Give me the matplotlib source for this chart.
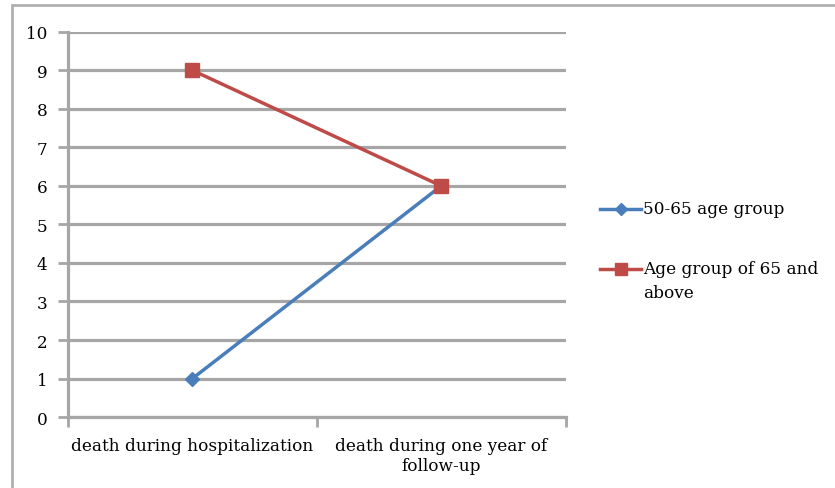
import numpy as np
import matplotlib.pyplot as plt
from matplotlib.patches import Rectangle

categories = ['death during hospitalization', 'death during one year of\nfollow-up']
series_names = ['50-65 age group', 'Age group of 65 and\nabove']
young = [1, 6]
old = [9, 6]
colors = ['#4a7ebb', '#be4b48']
markers = [('D', 7), ('s', 10)]

plt.rcParams['font.family'] = ['DejaVu Serif']
fs = 12.2

fig = plt.figure(figsize=(8.35, 4.89), dpi=100)
ax = fig.add_axes([0.0814, 0.145, 0.596, 0.788])

# outer chart frame
fig.patches.append(Rectangle((12/835, -0.1), 1.0, 1 - 6/489 + 0.1, transform=fig.transFigure,
                             fill=False, edgecolor='#b0b0b0', linewidth=2))

x = np.arange(len(categories)) + 0.5
for vals, c, (m, ms) in zip([young, old], colors, markers):
    ax.plot(x, vals, color=c, linewidth=2.5, marker=m, markersize=ms, zorder=3)

ax.set_xlim(0, 2)
ax.set_ylim(0, 10)
ax.set_yticks(range(0, 11))
ax.yaxis.grid(True, color='#a6a6a6', linewidth=2.3)
ax.set_axisbelow(True)
ax.set_xticks([0, 1, 2])
ax.set_xticklabels([])
ax.set_xticks(x, minor=True)
ax.set_xticklabels(categories, minor=True, fontsize=fs, linespacing=1.3)
ax.tick_params(axis='x', which='minor', length=0, pad=14)
ax.tick_params(axis='x', which='major', length=7, width=2, color='#a6a6a6')
ax.tick_params(axis='y', length=7, width=2, color='#a6a6a6', labelsize=fs, pad=8)
for s in ['top', 'right']:
    ax.spines[s].set_visible(False)
for s in ['left', 'bottom']:
    ax.spines[s].set_color('#a6a6a6')
    ax.spines[s].set_linewidth(2.3)

# legend: handle sits level with the first line of each label
leg_y = [1 - 210/489, 1 - 270/489]
x0, x1 = 600/835, 641/835
for ly, name, c, (m, ms) in zip(leg_y, series_names, colors, markers):
    fig.add_artist(plt.Line2D([x0, x1], [ly, ly], color=c, linewidth=2.5,
                              transform=fig.transFigure))
    fig.add_artist(plt.Line2D([(x0 + x1) / 2], [ly], color=c, marker=m, markersize=ms * 0.9,
                              transform=fig.transFigure))
    fig.text(x1 + 2/835, ly + 9/489, name, fontsize=fs, va='top', ha='left', linespacing=1.5)

fig.savefig('out.png', dpi=100)
